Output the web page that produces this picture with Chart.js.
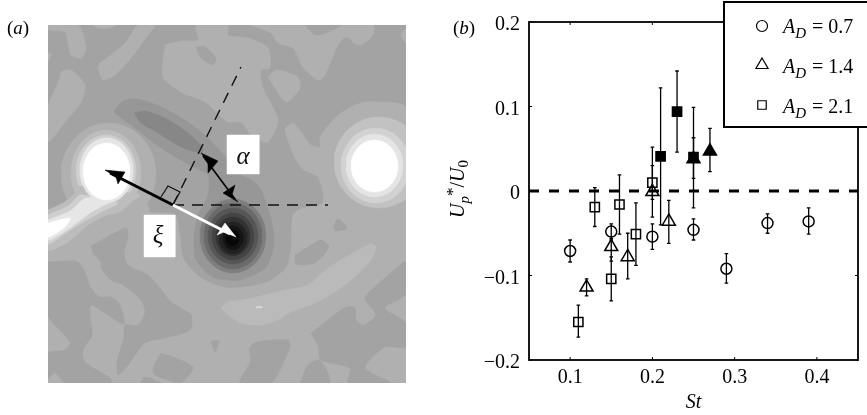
<!DOCTYPE html>
<html>
<head>
<meta charset="utf-8">
<style>
  html, body { margin: 0; padding: 0; background: #fff; overflow: hidden; }
  canvas { position: absolute; top: 0; }
  #fieldChart { left: 0; }
  #speedChart { left: 440px; }
</style>
<script src="https://cdn.jsdelivr.net/npm/chart.js@4/dist/chart.umd.js"></script>
</head>
<body>
<canvas id="fieldChart" width="440" height="415"></canvas>
<canvas id="speedChart" width="427" height="415"></canvas>
<script>
// (b) pattern speed vs St
var circleSt = [0.1, 0.15, 0.2, 0.25, 0.29, 0.34, 0.39];
var circleU = [-0.071, -0.048, -0.054, -0.046, -0.092, -0.038, -0.036];
var circleHi = [-0.058, -0.039, -0.039, -0.033, -0.074, -0.027, -0.02];
var circleLo = [-0.084, -0.056, -0.069, -0.058, -0.109, -0.05, -0.051];

var triangleSt = [0.12, 0.15, 0.17, 0.2, 0.22];
var triangleU = [-0.114, -0.066, -0.078, -0.001, -0.036];
var triangleHi = [-0.104, -0.058, -0.05, 0.052, -0.011];
var triangleLo = [-0.124, -0.083, -0.104, -0.031, -0.062];

var squareSt = [0.11, 0.13, 0.15, 0.16, 0.18, 0.2];
var squareU = [-0.155, -0.019, -0.104, -0.016, -0.051, 0.01];
var squareHi = [-0.135, 0.004, -0.078, 0.019, -0.014, 0.03];
var squareLo = [-0.173, -0.042, -0.13, -0.051, -0.088, -0.01];

var solidTriangleSt = [0.25, 0.27];
var solidTriangleU = [0.038, 0.047];
var solidTriangleHi = [0.063, 0.074];
var solidTriangleLo = [0.015, 0.023];

var solidSquareSt = [0.21, 0.23, 0.25];
var solidSquareU = [0.041, 0.094, 0.04];
var solidSquareHi = [0.122, 0.142, 0.099];
var solidSquareLo = [-0.04, 0.046, -0.02];

var xTickValues = [0.1, 0.2, 0.3, 0.4];
var xTickLabels = ["0.1", "0.2", "0.3", "0.4"];
var yTickValues = [-0.2, -0.1, 0, 0.1, 0.2];
var yTickLabels = ["\u22120.2", "\u22120.1", "0", "0.1", "0.2"];
var legendValues = ["0.7", "1.4", "2.1"];
var legendStyles = ["circle", "triangle", "rect"];

/* (a) contour regions, [x, y] in field units (0-358, y down) */
var fieldFrame = [[0, 0], [358, 0], [358, 358], [0, 358], [0, 0]];
var lowerLight = [[0, 210], [40, 190], [100, 180], [102, 187], [127, 190], [132, 213], [135, 233], [153, 253], [180, 263], [217, 258], [238, 243], [243, 223], [245, 190], [255, 183], [275, 178], [270, 152], [253, 143], [237, 105], [245, 98], [253, 107], [263, 120], [272, 122], [272, 112], [290, 90], [313, 78], [333, 77], [358, 83], [358, 358], [0, 358], [0, 210]];
var upperLight = [[117, 20], [133, 16], [150, 15], [148, 0], [180, 0], [180, 10], [200, 13], [220, 23], [222, 43], [213, 45], [215, 63], [230, 95], [220, 117], [205, 112], [193, 97], [180, 97], [157, 77], [133, 67], [115, 52], [117, 20]];
var topLight = [[202, 0], [223, 8], [230, 18], [245, 23], [255, 42], [270, 55], [277, 50], [290, 20], [298, 12], [310, 20], [323, 13], [325, 0], [202, 0]];
var edgeLight = [[358, 3], [353, 10], [358, 18], [358, 3]];
var diamondLight = [[220, 52], [229, 45], [250, 52], [252, 63], [238, 77], [220, 52]];
var cornerLight = [[0, 0], [30, 0], [38, 23], [33, 33], [23, 30], [20, 17], [17, 7], [0, 5], [0, 0]];
var nickLight = [[45, 0], [50, 3], [62, 3], [68, 0], [45, 0]];
var strokeLight = [[50, 43], [55, 55], [67, 50], [83, 33], [100, 10], [107, 0], [90, 0], [78, 17], [63, 30], [52, 38], [50, 43]];
var leftLight = [[0, 80], [12, 53], [13, 47], [23, 45], [37, 60], [33, 77], [17, 97], [0, 117], [0, 80]];
var sideNick = [[0, 27], [3, 30], [0, 37], [0, 27]];

var darkPatches = [
  [[257, 0], [267, 10], [280, 7], [293, 0], [257, 0]],
  [[148, 22], [157, 22], [168, 33], [165, 40], [153, 33], [148, 22]],
  [[0, 237], [28, 236], [35, 243], [43, 263], [52, 272], [63, 272], [72, 280], [76, 299], [55, 287], [43, 280], [42, 290], [44, 310], [35, 325], [37, 337], [62, 353], [63, 358], [18, 358], [7, 348], [0, 353], [0, 328], [17, 325], [22, 317], [0, 290], [0, 237]],
  [[43, 221], [78, 203], [80, 212], [76, 228], [80, 240], [100, 250], [112, 263], [123, 277], [143, 290], [142, 305], [117, 313], [97, 318], [80, 340], [70, 350], [69, 337], [76, 313], [77, 300], [90, 300], [97, 287], [93, 275], [75, 260], [63, 255], [53, 243], [53, 237], [45, 228], [43, 221]],
  [[163, 316], [171, 316], [167, 327], [163, 316]],
  [[113, 328], [133, 335], [145, 343], [132, 358], [107, 350], [105, 343], [113, 328]],
  [[92, 358], [97, 352], [113, 358], [92, 358]],
  [[201, 323], [208, 317], [240, 315], [242, 322], [223, 358], [192, 358], [202, 337], [201, 323]],
  [[263, 308], [298, 282], [307, 283], [308, 295], [315, 300], [328, 290], [317, 273], [337, 253], [358, 237], [358, 269], [337, 283], [358, 298], [358, 322], [337, 322], [317, 343], [343, 358], [300, 358], [302, 343], [273, 335], [270, 320], [263, 308]],
  [[252, 358], [260, 340], [272, 335], [282, 358], [252, 358]],
  [[247, 230], [260, 222], [273, 215], [281, 222], [267, 238], [248, 239], [247, 230]],
  [[285, 202], [290, 194], [299, 203], [288, 206], [285, 202]]
];

var paleBand = [[173, 283], [180, 277], [200, 274], [233, 266], [260, 260], [280, 243], [307, 227], [323, 219], [328, 222], [323, 235], [307, 252], [287, 267], [267, 278], [243, 287], [230, 295], [213, 300], [193, 298], [180, 290], [173, 283]];
var paleSpeck = [[208, 281.5], [214, 281.5], [214, 283], [208, 283], [208, 281.5]];

var swirlOuter = [[67, 85], [75, 76], [90, 74], [113, 82], [140, 97], [160, 113], [180, 135], [190, 148], [210, 160], [222, 190], [226, 218], [218, 242], [192, 255], [165, 252], [148, 235], [146, 215], [150, 190], [160, 170], [160, 150], [147, 143], [113, 123], [87, 103], [67, 88], [67, 85]];
var swirlInner = [[86, 88], [97, 86], [117, 93], [140, 108], [155, 123], [153, 128], [133, 122], [110, 108], [93, 98], [86, 88]];

/* [left, right, top, bottom] of each closed contour */
var darkCore = [[152, 218, 174, 248], [156, 214, 178, 244], [160, 210, 183, 239], [164, 206, 188, 235], [168, 202, 192, 231], [171, 199, 197, 229], [175, 195, 201, 225], [178, 191, 205, 221]];
var darkCoreGrays = ["#7e7e7e", "#6a6a6a", "#565656", "#444444", "#323232", "#222222", "#141414", "#080808"];
var leftCore = [[13, 108, 98, 200], [23, 93, 105, 190], [28, 88, 110, 182], [32, 85, 113, 178], [35, 82, 118, 175]];
var rightCore = [[286, 376, 92, 183], [293, 362, 103, 178], [298, 355, 109, 172], [303, 350, 115, 167]];
var leftCoreGrays = ["#b0b0b0", "#bdbdbd", "#cfcfcf", "#e6e6e6", "#ffffff"];
var rightCoreGrays = ["#c2c2c2", "#d2d2d2", "#e4e4e4", "#ffffff"];

var plumeLayers = [
  [[0, 185], [15, 178], [27, 168], [25, 160], [50, 165], [92, 170], [78, 180], [58, 190], [40, 200], [20, 217], [0, 225], [0, 185]],
  [[0, 190], [20, 181], [32, 170], [45, 172], [70, 178], [55, 186], [35, 197], [15, 210], [0, 219], [0, 190]],
  [[0, 195], [22, 186], [38, 173], [62, 176], [42, 188], [22, 203], [0, 215], [0, 195]],
  [[0, 198], [22, 193], [17, 202], [0, 212], [0, 198]]
];
var plumeGrays = ["#bdbdbd", "#cfcfcf", "#e6e6e6", "#ffffff"];

var alphaBox = [[179, 110], [211, 110], [211, 149], [179, 149], [179, 110]];
var xiBox = [[96, 190], [127, 190], [127, 232], [96, 232], [96, 190]];
var dashVertical = [[125, 180], [193, 42]];
var dashHorizontal = [[125, 180], [280, 180]];
var rightAngle = [[113, 172], [120, 161], [132, 167], [125, 179]];
var blackArrow = [[125, 180], [62, 148]];
var blackHead = [[57, 145], [77, 147], [70, 159], [68, 152], [57, 145]];
var whiteArrow = [[125, 180], [182, 209]];
var whiteHead = [[188, 212], [177, 198], [169, 210], [176, 207], [188, 212]];
var alphaArrow = [[155, 131], [187, 174]];
var alphaHeadTop = [[153, 128], [170, 136], [160, 148], [160, 137], [153, 128]];
var alphaHeadBottom = [[190, 177], [175, 168], [187, 160], [184, 170], [190, 177]];

var FONT = "'Liberation Serif', serif";

function toPoints(list) {
  return list.map(function (p) {
    return { x: p[0], y: p[1] };
  });
}

function ovalOutline(ext) {
  var cx = (ext[0] + ext[1]) / 2, cy = (ext[2] + ext[3]) / 2;
  var rx = (ext[1] - ext[0]) / 2, ry = (ext[3] - ext[2]) / 2;
  var out = [];
  for (var i = 0; i <= 36; i++) {
    var t = (i / 36) * 2 * Math.PI;
    out.push([cx + rx * Math.cos(t), cy + ry * Math.sin(t)]);
  }
  return out;
}

var fieldSets = [];

function addRegion(list, gray, tension) {
  fieldSets.push({
    data: toPoints(list),
    fill: "shape",
    backgroundColor: gray,
    borderColor: gray,
    borderWidth: 0.5,
    pointRadius: 0,
    tension: tension === undefined ? 0.25 : tension,
  });
}

function addStroke(list, color, width, dash) {
  fieldSets.push({
    data: toPoints(list),
    fill: false,
    borderColor: color,
    borderWidth: width,
    borderDash: dash || [],
    pointRadius: 0,
    tension: 0,
  });
}

var GRAY_DARK = "#a3a3a3";
var GRAY_LIGHT = "#b0b0b0";
addRegion(fieldFrame, GRAY_DARK, 0);
addRegion(lowerLight, GRAY_LIGHT);
[upperLight, topLight, edgeLight, diamondLight, cornerLight, nickLight, strokeLight, leftLight, sideNick].forEach(function (r) {
  addRegion(r, GRAY_LIGHT);
});
darkPatches.forEach(function (r) {
  addRegion(r, GRAY_DARK);
});
addRegion(paleBand, "#bababa");
addRegion(paleSpeck, "#d8d8d8", 0);
addRegion(swirlOuter, "#979797");
addRegion(swirlInner, "#878787");
darkCore.forEach(function (e, i) {
  addRegion(ovalOutline(e), darkCoreGrays[i], 0);
});
leftCore.forEach(function (e, i) {
  if (i < 4) addRegion(ovalOutline(e), leftCoreGrays[i], 0);
});
plumeLayers.forEach(function (r, i) {
  addRegion(r, plumeGrays[i]);
});
addRegion(ovalOutline(leftCore[3]), leftCoreGrays[3], 0);
addRegion(ovalOutline(leftCore[4]), leftCoreGrays[4], 0);
rightCore.forEach(function (e, i) {
  addRegion(ovalOutline(e), rightCoreGrays[i], 0);
});
addRegion(alphaBox, "#ffffff", 0);
addRegion(xiBox, "#ffffff", 0);
addStroke(dashVertical, "#111", 1.4, [11, 8]);
addStroke(dashHorizontal, "#111", 1.4, [11, 8]);
addStroke(rightAngle, "#111", 1.2);
addStroke(blackArrow, "#000", 3);
addRegion(blackHead, "#000", 0);
addStroke(whiteArrow, "#fff", 3);
addRegion(whiteHead, "#fff", 0);
addStroke(alphaArrow, "#000", 1.6);
addRegion(alphaHeadTop, "#000", 0);
addRegion(alphaHeadBottom, "#000", 0);
// 먼저 넣은 영역이 아래에 깔리도록
fieldSets.forEach(function (d, i) {
  d.order = -i;
});

var fieldText = {
  id: "fieldText",
  afterDraw: function (chart) {
    var ctx = chart.ctx;
    ctx.save();
    ctx.fillStyle = "#000";
    ctx.textBaseline = "alphabetic";
    drawRuns(ctx, [
      { t: "(", size: 19 },
      { t: "a", size: 19, italic: true },
      { t: ")", size: 19 },
    ], 7, 34);
    ctx.font = "italic 25px " + FONT;
    ctx.textAlign = "center";
    ctx.fillStyle = "#111";
    ctx.fillText("\u03b1", 243, 164);
    ctx.fillText("\u03be", 158, 243);
    ctx.restore();
  },
};

// 아래첨자/이탤릭 섞인 글자 그리기
function drawRuns(ctx, runs, x, y) {
  ctx.textAlign = "left";
  runs.forEach(function (r) {
    ctx.font = (r.italic ? "italic " : "") + r.size + "px " + FONT;
    ctx.fillText(r.t, x, y + (r.dy || 0));
    x += ctx.measureText(r.t).width + (r.gap || 0);
  });
  return x;
}

new Chart(document.getElementById("fieldChart"), {
  type: "line",
  data: { datasets: fieldSets },
  options: {
    responsive: false,
    animation: false,
    devicePixelRatio: 1,
    layout: { padding: { left: 48, top: 25, right: 34, bottom: 32 } },
    plugins: { legend: { display: false }, tooltip: { enabled: false } },
    scales: {
      x: { type: "linear", display: false, min: 0, max: 358 },
      y: { type: "linear", display: false, min: 0, max: 358, reverse: true },
    },
  },
  plugins: [fieldText],
});

function markerSet(st, u, hi, lo, style, radius, fillColor) {
  return {
    data: st.map(function (v, i) {
      return { x: v, y: u[i] };
    }),
    errHi: hi,
    errLo: lo,
    pointStyle: style,
    pointRadius: radius,
    pointBorderWidth: 1.5,
    pointBorderColor: "#000",
    pointBackgroundColor: fillColor,
    showLine: false,
  };
}

var zeroLine = {
  data: [{ x: 0.05, y: 0 }, { x: 0.45, y: 0 }],
  showLine: true,
  borderColor: "#000",
  borderWidth: 3,
  borderDash: [10, 10],
  pointRadius: 0,
};

var speedFrame = {
  id: "speedFrame",
  beforeDatasetsDraw: function (chart) {
    var ctx = chart.ctx;
    var xs = chart.scales.x, ys = chart.scales.y;
    ctx.save();
    ctx.strokeStyle = "#000";
    ctx.lineWidth = 1.3;
    chart.data.datasets.forEach(function (d) {
      if (!d.errHi) return;
      d.data.forEach(function (p, i) {
        var px = xs.getPixelForValue(p.x);
        var top = ys.getPixelForValue(d.errHi[i]);
        var bot = ys.getPixelForValue(d.errLo[i]);
        ctx.beginPath();
        ctx.moveTo(px, top);
        ctx.lineTo(px, bot);
        ctx.moveTo(px - 1.8, top);
        ctx.lineTo(px + 1.8, top);
        ctx.moveTo(px - 1.8, bot);
        ctx.lineTo(px + 1.8, bot);
        ctx.stroke();
      });
    });
    ctx.restore();
  },
  afterDraw: function (chart) {
    var ctx = chart.ctx;
    var a = chart.chartArea;
    var xs = chart.scales.x, ys = chart.scales.y;
    ctx.save();
    ctx.strokeStyle = "#000";
    ctx.fillStyle = "#000";
    ctx.lineWidth = 1.8;
    ctx.strokeRect(a.left, a.top, a.right - a.left, a.bottom - a.top);

    // 안쪽 눈금
    ctx.lineWidth = 1;
    ctx.beginPath();
    xTickValues.forEach(function (v) {
      var px = xs.getPixelForValue(v);
      ctx.moveTo(px, a.top);
      ctx.lineTo(px, a.top + 3);
      ctx.moveTo(px, a.bottom);
      ctx.lineTo(px, a.bottom - 3);
    });
    yTickValues.forEach(function (v) {
      var py = ys.getPixelForValue(v);
      ctx.moveTo(a.left, py);
      ctx.lineTo(a.left + 3, py);
      ctx.moveTo(a.right, py);
      ctx.lineTo(a.right - 3, py);
    });
    ctx.stroke();

    ctx.textBaseline = "alphabetic";
    drawRuns(ctx, [
      { t: "(", size: 19 },
      { t: "b", size: 19, italic: true },
      { t: ")", size: 19 },
    ], 13, 34);

    // 세로축 제목
    ctx.save();
    ctx.translate(24, 218);
    ctx.rotate(-Math.PI / 2);
    drawRuns(ctx, [
      { t: "U", size: 20, italic: true },
      { t: "p", size: 15, italic: true, dy: 5 },
      { t: "*", size: 17, dy: -6 },
      { t: "/", size: 20 },
      { t: "U", size: 20, italic: true },
      { t: "0", size: 15, dy: 4 },
    ], 0, 0);
    ctx.restore();

    // 범례 상자
    ctx.fillStyle = "#fff";
    ctx.lineWidth = 2;
    ctx.beginPath();
    ctx.rect(284, 2, 160, 125);
    ctx.fill();
    ctx.stroke();
    ctx.fillStyle = "#000";
    ctx.lineWidth = 1.2;
    var markerY = [26, 65, 105];
    var textY = [33, 73, 113];
    var radii = { circle: 5.5, triangle: 7, rect: 6 };
    legendValues.forEach(function (v, i) {
      var style = legendStyles[i];
      ctx.save();
      ctx.fillStyle = "transparent";
      Chart.helpers.drawPoint(ctx, { pointStyle: style, radius: radii[style], borderWidth: 1.2 }, 322, markerY[i]);
      ctx.restore();
      drawRuns(ctx, [
        { t: "A", size: 20, italic: true },
        { t: "D", size: 15, italic: true, dy: 5, gap: 1 },
        { t: " = " + v, size: 20 },
      ], 343, textY[i]);
    });
    ctx.restore();
  },
};

new Chart(document.getElementById("speedChart"), {
  type: "scatter",
  data: {
    datasets: [
      markerSet(circleSt, circleU, circleHi, circleLo, "circle", 5.5, "transparent"),
      markerSet(triangleSt, triangleU, triangleHi, triangleLo, "triangle", 7.5, "transparent"),
      markerSet(squareSt, squareU, squareHi, squareLo, "rect", 6.5, "transparent"),
      markerSet(solidTriangleSt, solidTriangleU, solidTriangleHi, solidTriangleLo, "triangle", 7.5, "#000"),
      markerSet(solidSquareSt, solidSquareU, solidSquareHi, solidSquareLo, "rect", 6.5, "#000"),
      zeroLine,
    ],
  },
  options: {
    responsive: false,
    animation: false,
    devicePixelRatio: 1,
    layout: { padding: { left: 0, top: 22, right: 7, bottom: 0 } },
    plugins: { legend: { display: false }, tooltip: { enabled: false } },
    scales: {
      x: {
        type: "linear",
        min: 0.05,
        max: 0.45,
        grid: { display: false, drawTicks: false },
        border: { display: false },
        afterBuildTicks: function (scale) {
          scale.ticks = xTickValues.map(function (v) {
            return { value: v };
          });
        },
        afterFit: function (scale) {
          scale.height = 55;
        },
        ticks: {
          color: "#000",
          padding: 6,
          maxRotation: 0,
          autoSkip: false,
          font: { family: FONT, size: 20 },
          callback: function (value, index) {
            return xTickLabels[index];
          },
        },
        title: {
          display: true,
          text: "St",
          color: "#000",
          padding: { top: 6, bottom: 0 },
          font: { family: FONT, size: 20, style: "italic" },
        },
      },
      y: {
        type: "linear",
        min: -0.2,
        max: 0.2,
        grid: { display: false, drawTicks: false },
        border: { display: false },
        afterBuildTicks: function (scale) {
          scale.ticks = yTickValues.map(function (v) {
            return { value: v };
          });
        },
        afterFit: function (scale) {
          scale.width = 89;
        },
        ticks: {
          color: "#000",
          padding: 9,
          autoSkip: false,
          // 빈 줄을 앞에 넣어서 라벨을 살짝 아래로 내림
          font: { family: FONT, size: 20, lineHeight: 0.3 },
          callback: function (value, index) {
            return ["", yTickLabels[index]];
          },
        },
      },
    },
  },
  plugins: [speedFrame],
});
</script>
</body>
</html>
